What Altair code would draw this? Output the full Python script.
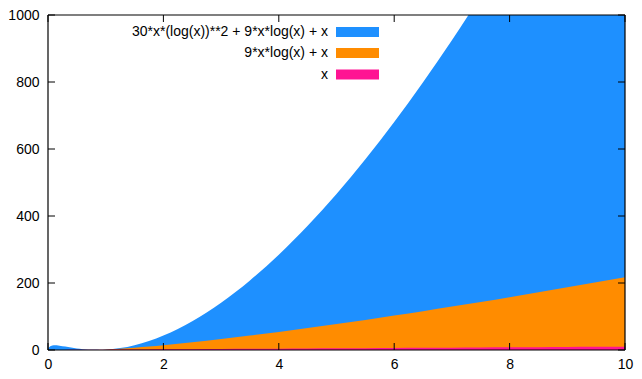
import altair as alt
import pandas as pd

# sampled x positions
xs = [0.0, 0.01, 0.05, 0.1, 0.2, 0.3, 0.4, 0.5, 0.6, 0.7, 0.8, 0.9, 1.0, 1.25, 1.5, 1.75,
      2.0, 2.5, 3.0, 3.5, 4.0, 4.5, 5.0, 5.5, 6.0, 6.5, 7.0, 7.5, 8.0, 8.5, 9.0, 9.5, 10.0]
# 30*x*(log(x))**2 + 9*x*log(x) + x
y_blue = [0.0, 5.96, 12.16, 13.93, 12.84, 10.10, 7.18, 4.59, 2.54, 1.12, 0.39, 0.35, 1.0, 5.63,
          14.37, 27.0, 43.3, 86.1, 141.3, 207.7, 284.5, 370.8, 466.0, 569.4, 680.6, 799.2,
          924.8, 1057.0, 1195.5, 1340.1, 1490.5, 1646.5, 1807.8]
# 9*x*log(x) + x
y_orange = [0.0, -0.40, -1.30, -1.97, -2.70, -2.95, -2.90, -2.62, -2.16, -1.55, -0.81, 0.05, 1.0,
            3.76, 6.97, 10.56, 14.48, 23.12, 32.66, 42.96, 53.91, 65.42, 77.42, 89.88, 102.75,
            116.0, 129.59, 143.5, 157.72, 172.2, 186.98, 201.99, 217.23]
# x
y_pink = [0.0, 0.01, 0.05, 0.1, 0.2, 0.3, 0.4, 0.5, 0.6, 0.7, 0.8, 0.9, 1.0, 1.25, 1.5, 1.75,
          2.0, 2.5, 3.0, 3.5, 4.0, 4.5, 5.0, 5.5, 6.0, 6.5, 7.0, 7.5, 8.0, 8.5, 9.0, 9.5, 10.0]

labels = ["30*x*(log(x))**2 + 9*x*log(x) + x", "9*x*log(x) + x", "x"]
colors = ["#1e90ff", "#ff8c00", "#ff1493"]

x_ticks = [0, 2, 4, 6, 8, 10]
y_ticks = [0, 200, 400, 600, 800, 1000]

W, H = 577, 335
FONT = "Liberation Sans"

df = pd.DataFrame({"x": xs, "b": y_blue, "o": y_orange, "p": y_pink})
xt = pd.DataFrame({"v": x_ticks})
yt = pd.DataFrame({"v": y_ticks})

xscale = alt.Scale(domain=[0, 10], nice=False, zero=False)
yscale = alt.Scale(domain=[0, 1000], nice=False)
xaxis = alt.Axis(values=x_ticks, title=None, format="d")
yaxis = alt.Axis(values=y_ticks, title=None, format="d")

base = alt.Chart(df)

def area(col, color):
    return base.mark_area(color=color, clip=True, interpolate="monotone", opacity=1).encode(
        x=alt.X("x:Q", scale=xscale, axis=xaxis),
        y=alt.Y(f"{col}:Q", scale=yscale, axis=yaxis))

layers = [area("b", colors[0]), area("o", colors[1]), area("p", colors[2])]

# inward ticks on all four sides
tk = 7
layers.append(alt.Chart(xt).mark_rule(color="black").encode(
    x=alt.X("v:Q", scale=xscale, axis=xaxis), y=alt.value(H), y2=alt.value(H - tk)))
layers.append(alt.Chart(xt).mark_rule(color="black").encode(
    x=alt.X("v:Q", scale=xscale, axis=xaxis), y=alt.value(0), y2=alt.value(tk)))
layers.append(alt.Chart(yt).mark_rule(color="black").encode(
    y=alt.Y("v:Q", scale=yscale, axis=yaxis), x=alt.value(0), x2=alt.value(tk)))
layers.append(alt.Chart(yt).mark_rule(color="black").encode(
    y=alt.Y("v:Q", scale=yscale, axis=yaxis), x=alt.value(W), x2=alt.value(W - tk)))

# frame
one = df.head(1)
layers.append(alt.Chart(one).mark_rule(color="black", strokeWidth=1.2).encode(
    x=alt.value(0), x2=alt.value(W), y=alt.value(0)))
layers.append(alt.Chart(one).mark_rule(color="black", strokeWidth=1.2).encode(
    x=alt.value(0), x2=alt.value(W), y=alt.value(H)))
layers.append(alt.Chart(one).mark_rule(color="black", strokeWidth=1.2).encode(
    y=alt.value(0), y2=alt.value(H), x=alt.value(0)))
layers.append(alt.Chart(one).mark_rule(color="black", strokeWidth=1.2).encode(
    y=alt.value(0), y2=alt.value(H), x=alt.value(W)))

# legend
row_y = [17, 38, 59.5]
for lab, col, ry in zip(labels, colors, row_y):
    layers.append(alt.Chart(one).mark_text(
        align="right", baseline="middle", fontSize=14, font=FONT, color="black").encode(
        x=alt.value(280), y=alt.value(ry), text=alt.value(lab)))
    layers.append(alt.Chart(one).mark_rect(color=col).encode(
        x=alt.value(288), x2=alt.value(331), y=alt.value(ry - 5), y2=alt.value(ry + 5)))

chart = alt.layer(*layers).properties(
    width=W, height=H,
    background="white",
    autosize=alt.AutoSizeParams(type="none"),
    padding={"left": 40, "top": 7, "right": 9, "bottom": 21},
).configure_view(stroke=None).configure_axis(
    tickSize=0, domain=False, grid=False, labelFontSize=14, labelFont=FONT,
    labelColor="black", labelFlush=False
).configure_axisX(labelPadding=7).configure_axisY(labelPadding=9)

chart.save("out.html", embed_options={"renderer": "svg", "actions": False})
